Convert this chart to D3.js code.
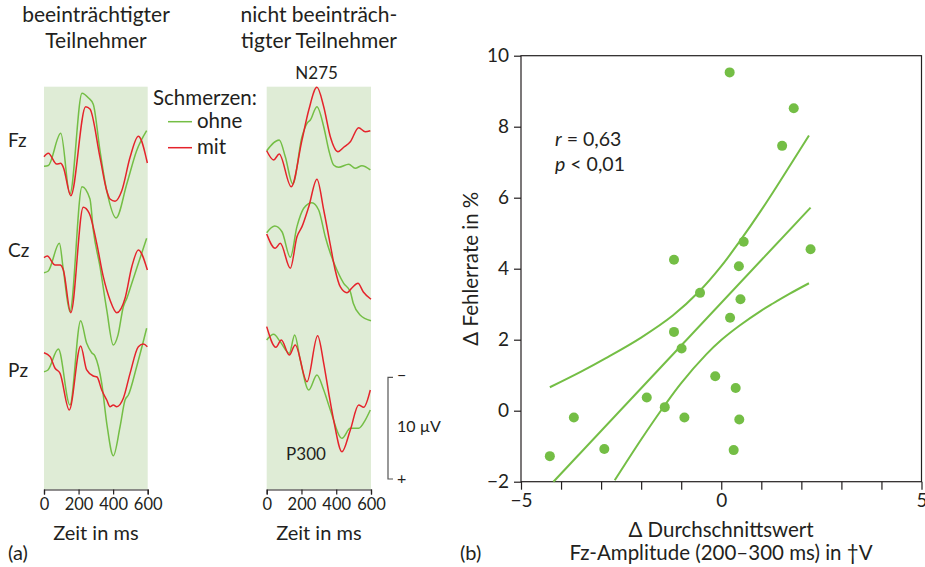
<!DOCTYPE html>
<html>
<head>
<meta charset="utf-8">
<script src="https://cdn.jsdelivr.net/npm/d3@7"></script>
<style>
  body { margin: 0; background: #fff; }
  text { font-family: Lato, 'Open Sans', sans-serif; fill: #231f20; }
</style>
</head>
<body>
<script>
// data: ERP curves as [ms, µV] pairs (negative plotted up)
var fzImpOhne = [[0, 1.11], [25, 1.03], [97, -2.13], [150, 3.83], [220, -6.07], [258, -5.6], [285, -5.0], [324, -0.42], [363, 3.51], [417, 6.19], [479, 2.85], [536, -0.42], [594, -2.39]]
var fzImpMit = [[0, 0.17], [25, -0.17], [73, 0.88], [97, 0.82], [112, 1.21], [155, 4.0], [241, -4.75], [266, -4.52], [324, 0.23], [363, 3.51], [382, 4.33], [411, 4.55], [450, 3.51], [498, 0.23], [546, -1.84], [598, 0.79]]
var czImpOhne = [[0, 0.76], [25, 0.59], [89, -2.13], [112, 0.49], [150, 4.59], [220, -7.7], [266, -6.49], [285, -3.44], [324, 0.17], [363, 4.42], [401, 7.87], [428, 6.9], [459, 4.1], [480, 3.24], [508, 1.8], [537, 0.29], [594, -2.63]]
var czImpMit = [[0, -0.72], [19, -0.88], [64, 0], [93, 0], [112, 0.49], [155, 4.69], [227, -5.67], [262, -5.08], [305, -2.13], [343, 1.15], [382, 3.44], [421, 4.69], [469, 3.27], [508, 0.17], [546, -1.47], [598, 0.49]]
var pzImpOhne = [[0, 0.66], [23, 0.49], [83, -1.57], [150, 3.93], [212, -4.36], [247, -2.13], [276, -1.21], [295, -0.88], [334, 1.8], [363, 5.73], [401, 8.92], [440, 6.07], [469, 3.44], [488, 2.95], [536, 0.17], [594, -3.61]]
var pzImpMit = [[0, -1.21], [35, -0.82], [64, 0.32], [93, 0.82], [146, 4.42], [212, -1.87], [247, 0.49], [285, 1.08], [307, 1.18], [334, 2.46], [363, 3.44], [382, 4.1], [401, 3.93], [421, 4.1], [459, 3.27], [498, 0.82], [546, -1.8], [575, -2.06], [598, -1.8]]

var fzNonOhne = [[0, -0.42], [72, -1.47], [107, 0.17], [150, 2.85], [203, -1.8], [232, -3.12], [251, -3.44], [289, -4.75], [328, -2.78], [357, -0.49], [385, 0.98], [414, 1.21], [472, 0.91], [509, 1.31], [548, 1.05], [596, 1.47]]
var fzNonMit = [[0, -0.42], [40, 0.49], [72, -0.1], [141, 3.12], [203, -1.47], [242, -4.42], [289, -6.65], [328, -4.75], [366, -1.8], [410, -0.32], [443, -0.76], [481, -1.31], [529, -2.68], [567, -2.29], [596, -2.39]]
var czNonOhne = [[0, -3.18], [46, -3.83], [88, -3.27], [136, -0.76], [174, -3.77], [213, -5.58], [260, -6.13], [299, -5.41], [337, -2.78], [366, -1.15], [404, 0.49], [443, 1.8], [481, 2.63], [498, 3.77], [537, 4.92], [600, 5.48]]
var czNonMit = [[0, -3.05], [49, -1.64], [78, -2.13], [136, 0.32], [174, -2.78], [203, -3.77], [242, -5.73], [289, -8.43], [328, -5.41], [366, -1.97], [394, 0.49], [423, 2.13], [462, 2.72], [490, 2.26], [525, 1.8], [556, 2.65], [600, 3.37]]
var pzNonOhne = [[0, -2.46], [40, -3.02], [78, -2.29], [130, -1.15], [161, -2.95], [193, -0.49], [242, 2.46], [289, 0.98], [328, 2.46], [366, 4.42], [433, 7.21], [481, 6.22], [529, 6.22], [567, 5.41], [596, 4.42]]
var pzNonMit = [[0, -3.77], [53, -1.74], [84, -2.46], [130, -0.98], [164, -1.97], [232, 1.64], [293, -2.88], [328, -0.17], [357, 2.78], [385, 5.41], [433, 8.53], [481, 6.39], [529, 3.93], [558, 4.16], [596, 2.46]]

var electrodes = ['Fz', 'Cz', 'Pz']
var timeTicks = [0, 200, 400, 600]

// data: scatter (Δ amplitude, Δ error rate)
var deltaAmp = [0.21, 1.81, 1.52, 0.56, -1.18, 0.44, 2.23, -0.53, 0.48, 0.22, -1.18, -0.99, -0.15, 0.36, -1.86, -1.41, -3.68, -0.92, 0.45, -2.92, 0.31, -4.28]
var deltaErr = [9.53, 8.52, 7.46, 4.76, 4.25, 4.07, 4.55, 3.32, 3.14, 2.62, 2.22, 1.75, 0.97, 0.64, 0.37, 0.10, -0.19, -0.19, -0.25, -1.08, -1.11, -1.28]
var fitLine = [[-4.19, -2], [2.23, 5.72]]
var ciUpper = [[-4.28, 0.66], [-3.5, 1.10], [-2.88, 1.48], [-2, 2.06], [-1.21, 2.68], [-0.54, 3.37], [0, 4.07], [0.46, 4.77], [1, 5.65], [1.46, 6.45], [2.19, 7.75]]
var ciLower = [[-2.66, -1.96], [-2, -0.81], [-1.42, 0.14], [-1, 0.78], [-0.38, 1.58], [0, 1.99], [0.46, 2.40], [1, 2.82], [1.29, 3.02], [1.7, 3.29], [2.19, 3.59]]
var xTicksB = [-5, -4, -3, -2, -1, 0, 1, 2, 3, 4, 5]
var xLabelsB = [-5, 0, 5]
var yTicksB = [-2, 0, 2, 4, 6, 8, 10]

// variables:
var w = 925
var h = 567
var green = '#74be45'
var red = '#e5232b'
var shade = '#dfecd6'
var dark = '#231f20'

var svg = d3.select('body')
  .append('svg')
  .attr('width', w)
  .attr('height', h)

// ---------- panel (a) ----------
var xLeft = d3.scaleLinear().domain([0, 600]).range([44, 147.7])
var xRight = d3.scaleLinear().domain([0, 600]).range([266.7, 371])
var bases = { Fz: 155, Cz: 265, Pz: 365 }
var yChan = function (name) {
  return d3.scaleLinear().domain([-10, 10]).range([bases[name] - 101.7, bases[name] + 101.7])
}
var panelTop = 86.7
var panelBottom = 489.5

svg.append('rect').attr('x', xLeft(0)).attr('y', panelTop)
  .attr('width', xLeft(600) - xLeft(0)).attr('height', panelBottom - panelTop).attr('fill', shade)
svg.append('rect').attr('x', xRight(0)).attr('y', panelTop)
  .attr('width', xRight(600) - xRight(0)).attr('height', panelBottom - panelTop).attr('fill', shade)

var curves = [
  { xs: xLeft, ch: 'Fz', d: fzImpOhne, c: green },
  { xs: xLeft, ch: 'Fz', d: fzImpMit, c: red },
  { xs: xLeft, ch: 'Cz', d: czImpOhne, c: green },
  { xs: xLeft, ch: 'Cz', d: czImpMit, c: red },
  { xs: xLeft, ch: 'Pz', d: pzImpOhne, c: green },
  { xs: xLeft, ch: 'Pz', d: pzImpMit, c: red },
  { xs: xRight, ch: 'Fz', d: fzNonOhne, c: green },
  { xs: xRight, ch: 'Fz', d: fzNonMit, c: red },
  { xs: xRight, ch: 'Cz', d: czNonOhne, c: green },
  { xs: xRight, ch: 'Cz', d: czNonMit, c: red },
  { xs: xRight, ch: 'Pz', d: pzNonOhne, c: green },
  { xs: xRight, ch: 'Pz', d: pzNonMit, c: red }
]

curves.forEach(function (cv) {
  var ys = yChan(cv.ch)
  var line = d3.line()
    .x(function (d) { return cv.xs(d[0]) })
    .y(function (d) { return ys(d[1]) })
    .curve(d3.curveMonotoneX)
  svg.append('path')
    .datum(cv.d)
    .attr('d', line)
    .attr('fill', 'none')
    .attr('stroke', cv.c)
    .attr('stroke-width', 1.5)
})

// time axes
;[xLeft, xRight].forEach(function (xs) {
  var g = svg.append('g').attr('transform', 'translate(0,' + panelBottom + ')')
  g.call(d3.axisBottom(xs).tickValues(timeTicks).tickSize(5).tickPadding(4).tickFormat(d3.format('d')))
  g.select('.domain').attr('stroke', dark).attr('stroke-width', 1.2)
  g.selectAll('.tick line').attr('stroke', dark).attr('stroke-width', 1.2)
  g.selectAll('.tick text').attr('font-size', '16.5px').attr('font-family', null).attr('fill', dark)
  svg.append('text').text('Zeit in ms')
    .attr('x', (xs.range()[0] + xs.range()[1]) / 2).attr('y', 540)
    .attr('text-anchor', 'middle').attr('font-size', '20px')
})

// electrode labels
electrodes.forEach(function (e) {
  svg.append('text').text(e)
    .attr('x', 8).attr('y', bases[e] - 8 + (e === 'Pz' ? 20 : 0))
    .attr('font-size', '19px')
})

// titles
svg.append('text').attr('text-anchor', 'middle').attr('font-size', '21px')
  .selectAll('tspan').data(['beeinträchtigter', 'Teilnehmer']).enter().append('tspan')
  .attr('x', 96).attr('y', function (d, i) { return 22 + i * 26 }).text(function (d) { return d })
svg.append('text').attr('text-anchor', 'middle').attr('font-size', '21px')
  .selectAll('tspan').data(['nicht beeinträch-', 'tigter Teilnehmer']).enter().append('tspan')
  .attr('x', 319).attr('y', function (d, i) { return 22 + i * 26 }).text(function (d) { return d })

svg.append('text').text('N275').attr('x', xRight(287)).attr('y', 79)
  .attr('text-anchor', 'middle').attr('font-size', '17px')
svg.append('text').text('P300').attr('x', xRight(226)).attr('y', 460)
  .attr('text-anchor', 'middle').attr('font-size', '17px')

// legend
svg.append('text').text('Schmerzen:').attr('x', 153).attr('y', 105).attr('font-size', '20.5px')
var legend = [{ label: 'ohne', c: green, y: 121.7 }, { label: 'mit', c: red, y: 147.7 }]
legend.forEach(function (l) {
  svg.append('line').attr('x1', 168).attr('x2', 192).attr('y1', l.y).attr('y2', l.y)
    .attr('stroke', l.c).attr('stroke-width', 1.5)
  svg.append('text').text(l.label).attr('x', 197).attr('y', l.y + 6.5).attr('font-size', '20.5px')
})

// scale bar 10 µV
var yBar = d3.scaleLinear().domain([-5, 5]).range([377.3, 479])
var bar = svg.append('g').attr('stroke', '#555').attr('stroke-width', 1.2).attr('fill', 'none')
bar.append('path').attr('d', 'M393,' + yBar(-5) + 'H388V' + yBar(5) + 'H393')
svg.append('text').text('−').attr('x', 397).attr('y', yBar(-5) + 4).attr('font-size', '16px')
svg.append('text').text('+').attr('x', 397).attr('y', yBar(5) + 5).attr('font-size', '16px')
svg.append('text').text('10 µV').attr('x', 397).attr('y', yBar(0) + 4).attr('font-size', '16px')

svg.append('text').text('(a)').attr('x', 8).attr('y', 560).attr('font-size', '20px')

// ---------- panel (b) ----------
var xB = d3.scaleLinear().domain([-5, 5]).range([521, 921.5])
var yB = d3.scaleLinear().domain([-2, 10]).range([481.7, 55.7])

svg.append('rect').attr('x', xB(-5)).attr('y', yB(10))
  .attr('width', xB(5) - xB(-5)).attr('height', yB(-2) - yB(10))
  .attr('fill', 'none').attr('stroke', dark).attr('stroke-width', 1.2)

var gx = svg.append('g').attr('transform', 'translate(0,' + yB(-2) + ')')
gx.call(d3.axisBottom(xB).tickValues(xTicksB).tickSize(8).tickPadding(4)
  .tickFormat(function (d) { return xLabelsB.indexOf(d) >= 0 ? d3.format('d')(d).replace('-', '−') : '' }))
gx.select('.domain').remove()
gx.selectAll('.tick line').attr('stroke', dark).attr('stroke-width', 1.2)
gx.selectAll('.tick text').attr('font-size', '19px').attr('font-family', null).attr('fill', dark)

var gy = svg.append('g').attr('transform', 'translate(' + xB(-5) + ',0)')
gy.call(d3.axisLeft(yB).tickValues(yTicksB).tickSize(7).tickPadding(5)
  .tickFormat(function (d) { return String(d).replace('-', '−') }))
gy.select('.domain').remove()
gy.selectAll('.tick line').attr('stroke', dark).attr('stroke-width', 1.2)
gy.selectAll('.tick text').attr('font-size', '19px').attr('font-family', null).attr('fill', dark)

var bandLine = d3.line()
  .x(function (d) { return xB(d[0]) })
  .y(function (d) { return yB(d[1]) })
  .curve(d3.curveCatmullRom.alpha(0.5))
;[fitLine, ciUpper, ciLower].forEach(function (arr) {
  svg.append('path').datum(arr).attr('d', bandLine)
    .attr('fill', 'none').attr('stroke', green).attr('stroke-width', 2)
})

svg.selectAll('circle')
  .data(deltaAmp)
  .enter()
  .append('circle')
  .attr('cx', function (d) { return xB(d) })
  .attr('cy', function (d, i) { return yB(deltaErr[i]) })
  .attr('r', 5)
  .attr('fill', green)

var stat1 = svg.append('text').attr('x', 555).attr('y', 146).attr('font-size', '19.5px')
stat1.append('tspan').attr('font-style', 'italic').text('r')
stat1.append('tspan').text(' = 0,63')
var stat2 = svg.append('text').attr('x', 555).attr('y', 171).attr('font-size', '19.5px')
stat2.append('tspan').attr('font-style', 'italic').text('p')
stat2.append('tspan').text(' < 0,01')

svg.append('text').text('Δ Fehlerrate in %')
  .attr('transform', 'translate(478,' + ((yB(-2) + yB(10)) / 2) + ') rotate(-90)')
  .attr('text-anchor', 'middle').attr('font-size', '20.5px')
svg.append('text').text('Δ Durchschnittswert').attr('x', 721).attr('y', 536.5)
  .attr('text-anchor', 'middle').attr('font-size', '20.5px')
svg.append('text').text('Fz-Amplitude (200–300 ms) in †V').attr('x', 721).attr('y', 560)
  .attr('text-anchor', 'middle').attr('font-size', '20.5px')
svg.append('text').text('(b)').attr('x', 460).attr('y', 560).attr('font-size', '20px')
</script>
</body>
</html>
